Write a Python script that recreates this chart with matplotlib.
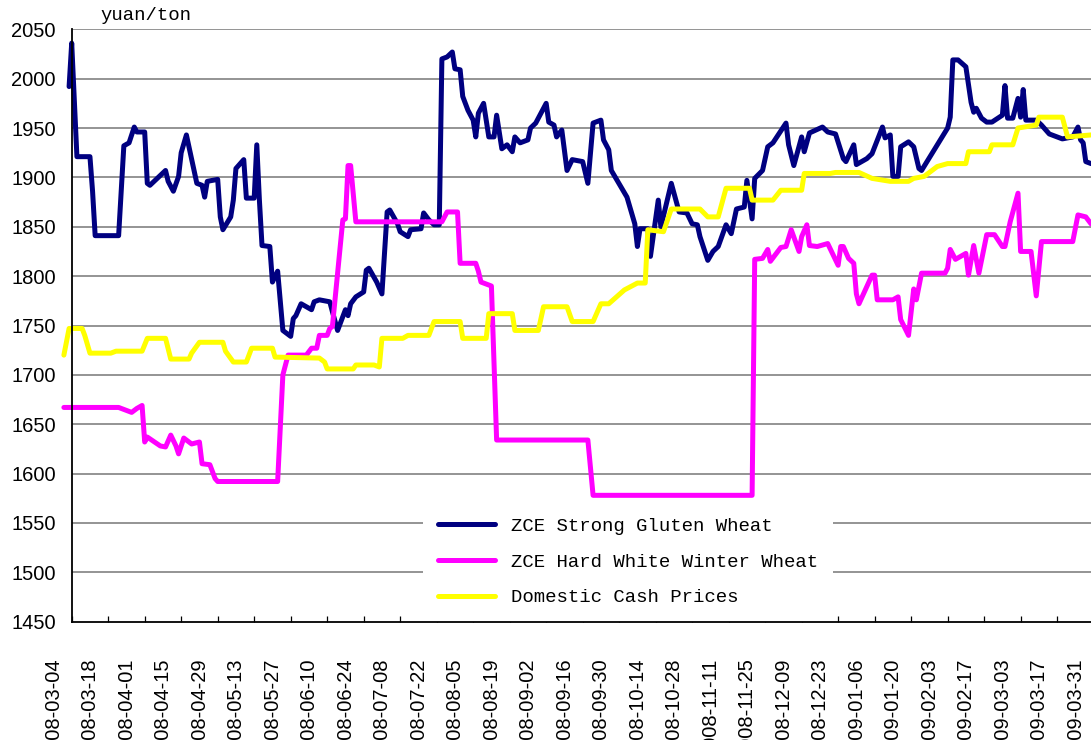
import matplotlib
matplotlib.use("Agg")
import matplotlib.pyplot as plt
import matplotlib.transforms as mtransforms
from matplotlib import font_manager

# days counted from 2008-03-11, values in yuan/ton
gluten_days = [-1, 0, 2, 7, 8, 9, 18, 20, 22, 24, 25, 28, 29, 30, 36, 37, 39, 41, 42, 44,
               48, 50, 51, 52, 56, 57, 58, 61, 62, 63, 66, 67, 70, 71, 72, 73, 76, 77, 79, 81,
               84, 85, 86, 88, 92, 93, 95, 99, 100, 102, 105, 106, 107, 109, 112, 113, 114, 117, 119, 121,
               122, 125, 126, 129, 130, 134, 135, 137, 139, 141, 142, 144, 146, 147, 149, 150, 152, 154, 155, 156,
               158, 160, 162, 163, 165, 167, 169, 170, 172, 175, 176, 178, 182, 183, 185, 186, 188, 190, 192, 196,
               198, 200, 203, 204, 206, 207, 213, 216, 217, 218, 221, 222, 225, 226, 230, 233, 236, 238, 240, 241,
               244, 246, 248, 251, 253, 255, 258, 259, 261, 262, 265, 267, 269, 274, 275, 277, 280, 281, 283, 288,
               290, 293, 296, 297, 300, 301, 305, 307, 311, 312, 314, 315, 317, 318, 321, 323, 325, 326, 336, 337,
               338, 340, 343, 345, 346, 347, 349, 351, 353, 357, 358, 359, 361, 363, 364, 365, 366, 370, 372, 375,
               380, 384, 386, 387, 388, 389, 391, 395]
gluten_vals = [1992, 2036, 1921, 1921, 1886, 1841, 1841, 1932, 1935, 1951, 1946, 1946, 1894, 1892, 1907, 1896, 1886, 1901, 1925, 1943,
               1894, 1892, 1880, 1896, 1898, 1860, 1847, 1860, 1877, 1909, 1918, 1879, 1879, 1933, 1877, 1831, 1830, 1794, 1805, 1745,
               1739, 1757, 1760, 1772, 1766, 1774, 1776, 1774, 1764, 1745, 1766, 1760, 1772, 1779, 1784, 1806, 1808, 1794, 1782, 1865,
               1867, 1853, 1845, 1840, 1847, 1848, 1864, 1857, 1852, 1852, 2020, 2022, 2027, 2010, 2009, 1982, 1968, 1958, 1941, 1965,
               1975, 1941, 1941, 1963, 1929, 1933, 1926, 1941, 1935, 1938, 1950, 1955, 1975, 1956, 1953, 1941, 1948, 1907, 1918, 1916,
               1894, 1955, 1958, 1938, 1928, 1907, 1880, 1853, 1830, 1848, 1848, 1820, 1877, 1850, 1894, 1865, 1864, 1853, 1852, 1840,
               1816, 1825, 1830, 1852, 1843, 1868, 1870, 1897, 1858, 1899, 1907, 1931, 1935, 1955, 1933, 1912, 1941, 1926, 1945, 1951,
               1946, 1944, 1919, 1916, 1933, 1913, 1919, 1924, 1951, 1940, 1943, 1901, 1901, 1931, 1936, 1931, 1909, 1907, 1950, 1961,
               2019, 2019, 2012, 1976, 1966, 1970, 1960, 1956, 1956, 1963, 1993, 1960, 1960, 1980, 1961, 1989, 1958, 1958, 1953, 1944,
               1939, 1941, 1951, 1938, 1935, 1916, 1914, 1914]

hard_days = [-3, 18, 20, 23, 25, 27, 28, 29, 34, 36, 38, 40, 41, 43, 46, 49, 50, 53, 55, 56,
             79, 81, 83, 90, 92, 94, 95, 98, 99, 100, 102, 104, 105, 106, 107, 109, 142, 144, 148, 149,
             155, 156, 157, 161, 163, 198, 200, 261, 262, 265, 267, 268, 272, 274, 276, 279, 280, 282, 283, 286,
             290, 294, 295, 296, 298, 300, 301, 302, 307, 308, 309, 315, 317, 318, 321, 323, 324, 326, 335, 336,
             337, 339, 343, 344, 346, 348, 351, 354, 357, 358, 360, 363, 364, 368, 370, 372, 384, 386, 389, 391, 395]
hard_vals = [1667, 1667, 1665, 1662, 1666, 1669, 1632, 1637, 1628, 1627, 1639, 1628, 1620, 1636, 1630, 1632, 1610, 1609, 1595, 1592,
             1592, 1700, 1720, 1720, 1727, 1727, 1740, 1740, 1747, 1749, 1803, 1857, 1858, 1912, 1912, 1855, 1855, 1865, 1865, 1813,
             1813, 1805, 1794, 1790, 1634, 1634, 1578, 1578, 1817, 1818, 1827, 1815, 1829, 1830, 1847, 1825, 1840, 1852, 1831, 1830,
             1833, 1811, 1830, 1830, 1818, 1813, 1782, 1772, 1801, 1801, 1776, 1776, 1779, 1756, 1740, 1787, 1776, 1803, 1803, 1808,
             1827, 1817, 1823, 1801, 1831, 1803, 1842, 1842, 1830, 1830, 1855, 1884, 1825, 1825, 1780, 1835, 1835, 1862, 1860, 1853, 1850]

cash_days = [-3, -1, 4, 5, 7, 15, 17, 27, 29, 36, 38, 45, 46, 49, 58, 59, 62, 67, 69, 77,
             78, 95, 97, 98, 108, 109, 116, 118, 119, 127, 129, 137, 139, 149, 150, 159, 160, 169, 170, 179,
             181, 190, 192, 200, 203, 206, 212, 217, 220, 221, 227, 230, 241, 244, 248, 251, 260, 261, 269, 272,
             280, 281, 291, 293, 302, 307, 314, 321, 323, 327, 332, 336, 343, 344, 352, 353, 361, 363, 370, 371,
             380, 382, 391, 395]
cash_vals = [1720, 1747, 1747, 1740, 1722, 1722, 1724, 1724, 1737, 1737, 1716, 1716, 1722, 1733, 1733, 1724, 1713, 1713, 1727, 1727,
             1718, 1717, 1713, 1706, 1706, 1710, 1710, 1708, 1737, 1737, 1740, 1740, 1754, 1754, 1737, 1737, 1762, 1762, 1745, 1745,
             1769, 1769, 1754, 1754, 1772, 1772, 1786, 1793, 1793, 1847, 1845, 1868, 1868, 1860, 1860, 1889, 1889, 1877, 1877, 1887,
             1887, 1904, 1904, 1905, 1905, 1899, 1896, 1896, 1899, 1901, 1911, 1914, 1914, 1926, 1926, 1933, 1933, 1950, 1953, 1961,
             1961, 1941, 1943, 1943]

date_labels = ["2008-03-04", "2008-03-18", "2008-04-01", "2008-04-15", "2008-04-29", "2008-05-13",
               "2008-05-27", "2008-06-10", "2008-06-24", "2008-07-08", "2008-07-22", "2008-08-05",
               "2008-08-19", "2008-09-02", "2008-09-16", "2008-09-30", "2008-10-14", "2008-10-28",
               "2008-11-11", "2008-11-25", "2008-12-09", "2008-12-23", "2009-01-06", "2009-01-20",
               "2009-02-03", "2009-02-17", "2009-03-03", "2009-03-17", "2009-03-31"]
series_names = ["ZCE Strong Gluten Wheat", "ZCE Hard White Winter Wheat", "Domestic Cash Prices"]
series_colors = ["#000080", "#FF00FF", "#FFFF00"]

# narrow font for the date labels if it exists
try:
    font_manager.findfont("Liberation Sans Narrow", fallback_to_default=False)
    date_font = "Liberation Sans Narrow"
    date_size = 18
except Exception:
    date_font = "Liberation Sans"
    date_size = 14.5

W, H = 1091, 740
fig = plt.figure(figsize=(W / 100, H / 100), dpi=100)
ax = fig.add_axes([71.7 / W, 1 - 621.7 / H, 1 - 71.7 / W, (621.7 - 29.3) / H])

for d, v, name, c in zip([gluten_days, hard_days, cash_days],
                         [gluten_vals, hard_vals, cash_vals], series_names, series_colors):
    ax.plot(d, v, color=c, lw=3.6, label=name, clip_on=False, zorder=2,
            solid_joinstyle="round", solid_capstyle="round")

yticks = list(range(1450, 2051, 50))
ax.set_yticks(yticks)
ax.tick_params(axis="y", length=0, pad=11.5, labelsize=14.5)
for lab in ax.get_yticklabels():
    lab.set_fontfamily("Liberation Sans")
# grid drawn by hand so the legend box can hide it but not the ticks
for y in yticks[1:]:
    ax.axhline(y, color="#777777", lw=1.1, zorder=0.5)

# tick marks every 14 days; the date labels sit half a period to the left,
# the first one left of the y axis, so they are placed as plain texts
ax.set_xticks([])
ax.set_xticks([14 * k for k in range(len(date_labels))], minor=True)
ax.tick_params(axis="x", which="minor", direction="in", length=4.3, width=0.9, color="black")
ax.set_xlim(0, 391)
ax.set_ylim(1450, 2050)

trans = mtransforms.blended_transform_factory(ax.transData, ax.transAxes)
trans = trans + mtransforms.ScaledTranslation(0, -26.5 / 72, fig.dpi_scale_trans)
for k, lab in enumerate(date_labels):
    ax.text(14 * k - 7, 0, lab, transform=trans, rotation=90, ha="center", va="top",
            fontsize=date_size, family=date_font, clip_on=False)

for s in ["top", "right"]:
    ax.spines[s].set_visible(False)
ax.spines["left"].set_linewidth(1.3)
ax.spines["bottom"].set_linewidth(1.3)

leg = ax.legend(loc="upper left", bbox_to_anchor=(423 / W, 1 - 502 / H),
                bbox_transform=fig.transFigure, borderaxespad=0,
                prop={"family": "Liberation Mono", "size": 13.7},
                frameon=True, fancybox=False, framealpha=1, edgecolor="none",
                facecolor="white", handlelength=3.0, handletextpad=0.8,
                labelspacing=0.98, borderpad=0.8)
leg.set_zorder(2.2)
for line in leg.get_lines():
    line.set_linewidth(3.6)

fig.text(100 / W, 1 - 15 / H, "yuan/ton", fontsize=13.7, family="Liberation Mono",
         ha="left", va="center")

fig.savefig("out.png", dpi=100)
